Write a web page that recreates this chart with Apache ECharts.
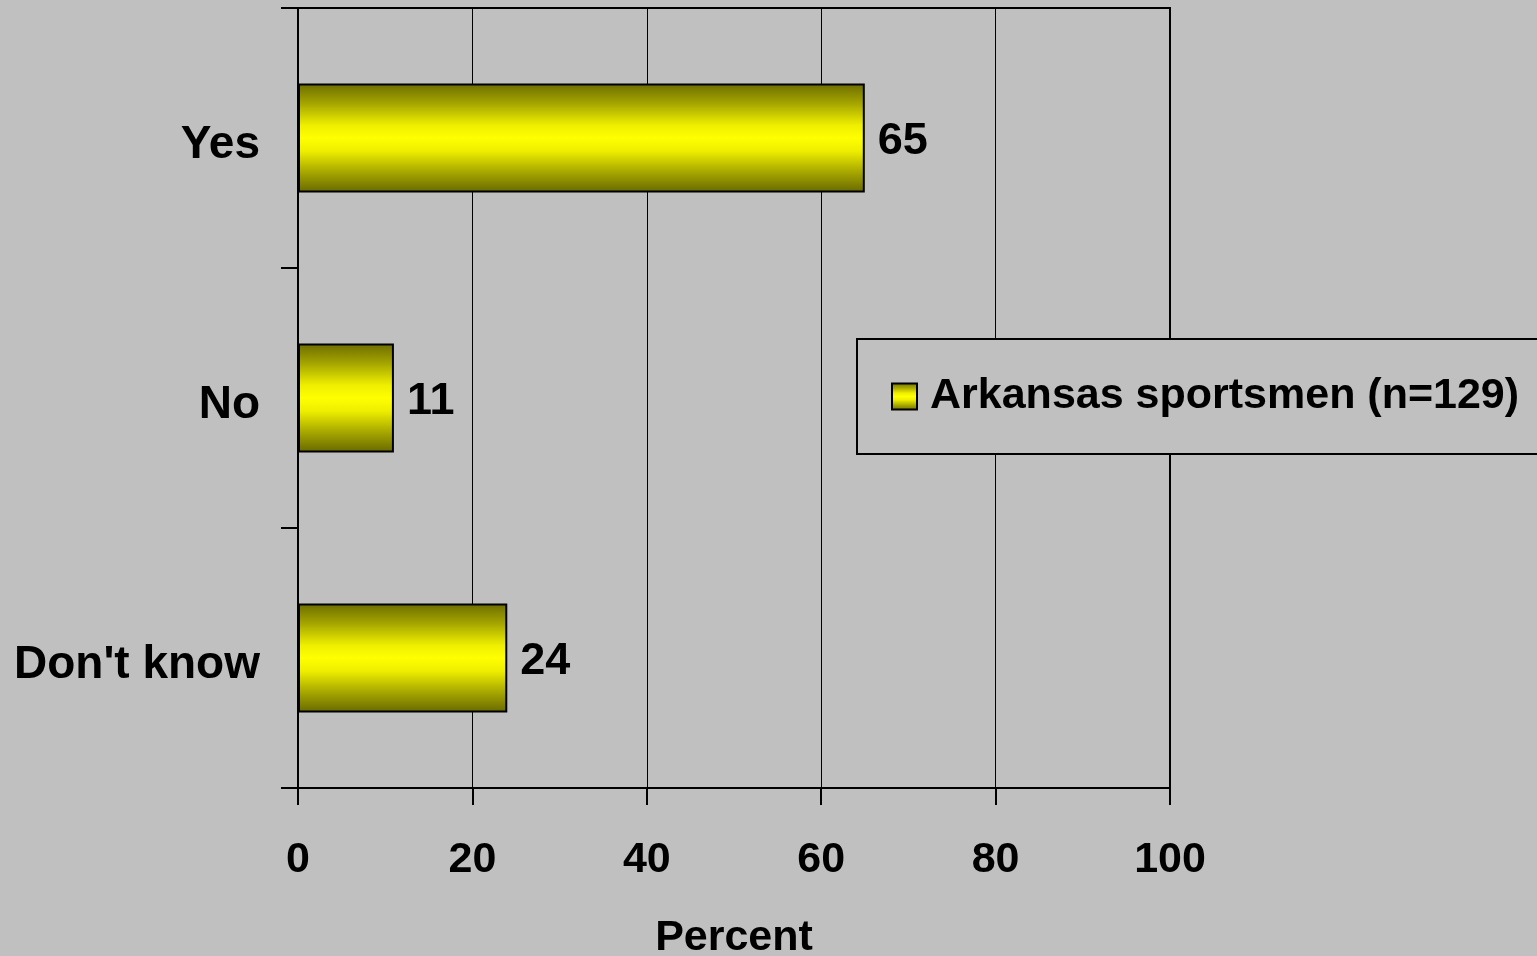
<!DOCTYPE html>
<html>
<head>
<meta charset="utf-8">
<script src="https://cdn.jsdelivr.net/npm/echarts@6/dist/echarts.min.js"></script>
<style>
html,body{margin:0;padding:0;background:#C0C0C0;}
#chart{width:1537px;height:956px;}
</style>
</head>
<body>
<div id="chart"></div>
<script>
var categories = ["Yes", "No", "Don't know"];
var seriesName = "Arkansas sportsmen (n=129)";
var values = [65, 11, 24];
var xTicks = [0, 20, 40, 60, 80, 100];
var axisTitle = "Percent";

var FONT = '"Liberation Sans", Arial, sans-serif';
var barGradient = {
  type: 'linear', x: 0, y: 0, x2: 0, y2: 1,
  colorStops: [
    {offset: 0, color: '#6c6c00'},
    {offset: 0.18, color: '#a4a400'},
    {offset: 0.38, color: '#eeee00'},
    {offset: 0.5, color: '#ffff00'},
    {offset: 0.62, color: '#eeee00'},
    {offset: 0.82, color: '#a4a400'},
    {offset: 1, color: '#686800'}
  ]
};

var chart = echarts.init(document.getElementById('chart'));
chart.setOption({
  backgroundColor: '#C0C0C0',
  animation: false,
  textStyle: {fontFamily: FONT},
  grid: {
    left: 298, right: 367, top: 8, bottom: 168,
    outerBoundsMode: 'none',
    containLabel: false,
    show: true, borderColor: '#000', borderWidth: 2, backgroundColor: 'transparent'
  },
  legend: {
    left: 857, top: 339,
    padding: [36, 80, 36, 34],
    backgroundColor: '#C0C0C0',
    borderColor: '#000', borderWidth: 2, borderRadius: 0,
    itemWidth: 25, itemHeight: 26, itemGap: 14,
    textStyle: {fontFamily: FONT, fontSize: 43, fontWeight: 'bold', color: '#000', padding: [9, 0, 0, 8]},
    data: [{name: seriesName, icon: 'rect', itemStyle: {color: barGradient, borderColor: '#000', borderWidth: 2}}]
  },
  xAxis: {
    type: 'value', min: 0, max: 100, interval: 20,
    name: axisTitle, nameLocation: 'middle', nameGap: 129,
    nameTextStyle: {fontFamily: FONT, fontSize: 43, fontWeight: 'bold', color: '#000'},
    axisLine: {show: true, lineStyle: {color: '#000', width: 2}},
    axisTick: {show: true, length: 17, lineStyle: {color: '#000', width: 2}},
    splitLine: {show: true, lineStyle: {color: '#000', width: 1}},
    axisLabel: {margin: 51, fontFamily: FONT, fontSize: 43, fontWeight: 'bold', color: '#000',
      formatter: function (v) { return xTicks.indexOf(v) >= 0 ? String(v) : ''; }}
  },
  yAxis: {
    type: 'category', inverse: true, data: categories,
    axisLine: {show: true, lineStyle: {color: '#000', width: 2}},
    axisTick: {show: true, length: 17, lineStyle: {color: '#000', width: 2}},
    splitLine: {show: false},
    axisLabel: {margin: 38, fontFamily: FONT, fontSize: 46, fontWeight: 'bold', color: '#000',
      verticalAlign: 'top', lineHeight: 14}
  },
  series: [{
    name: seriesName,
    type: 'bar',
    data: values,
    barWidth: 109,
    itemStyle: {color: barGradient, borderColor: '#000', borderWidth: 2},
    label: {show: true, position: 'right', distance: 13, fontFamily: FONT, fontSize: 45, fontWeight: 'bold', color: '#000',
      verticalAlign: 'top', lineHeight: 8}
  }]
});
</script>
</body>
</html>
